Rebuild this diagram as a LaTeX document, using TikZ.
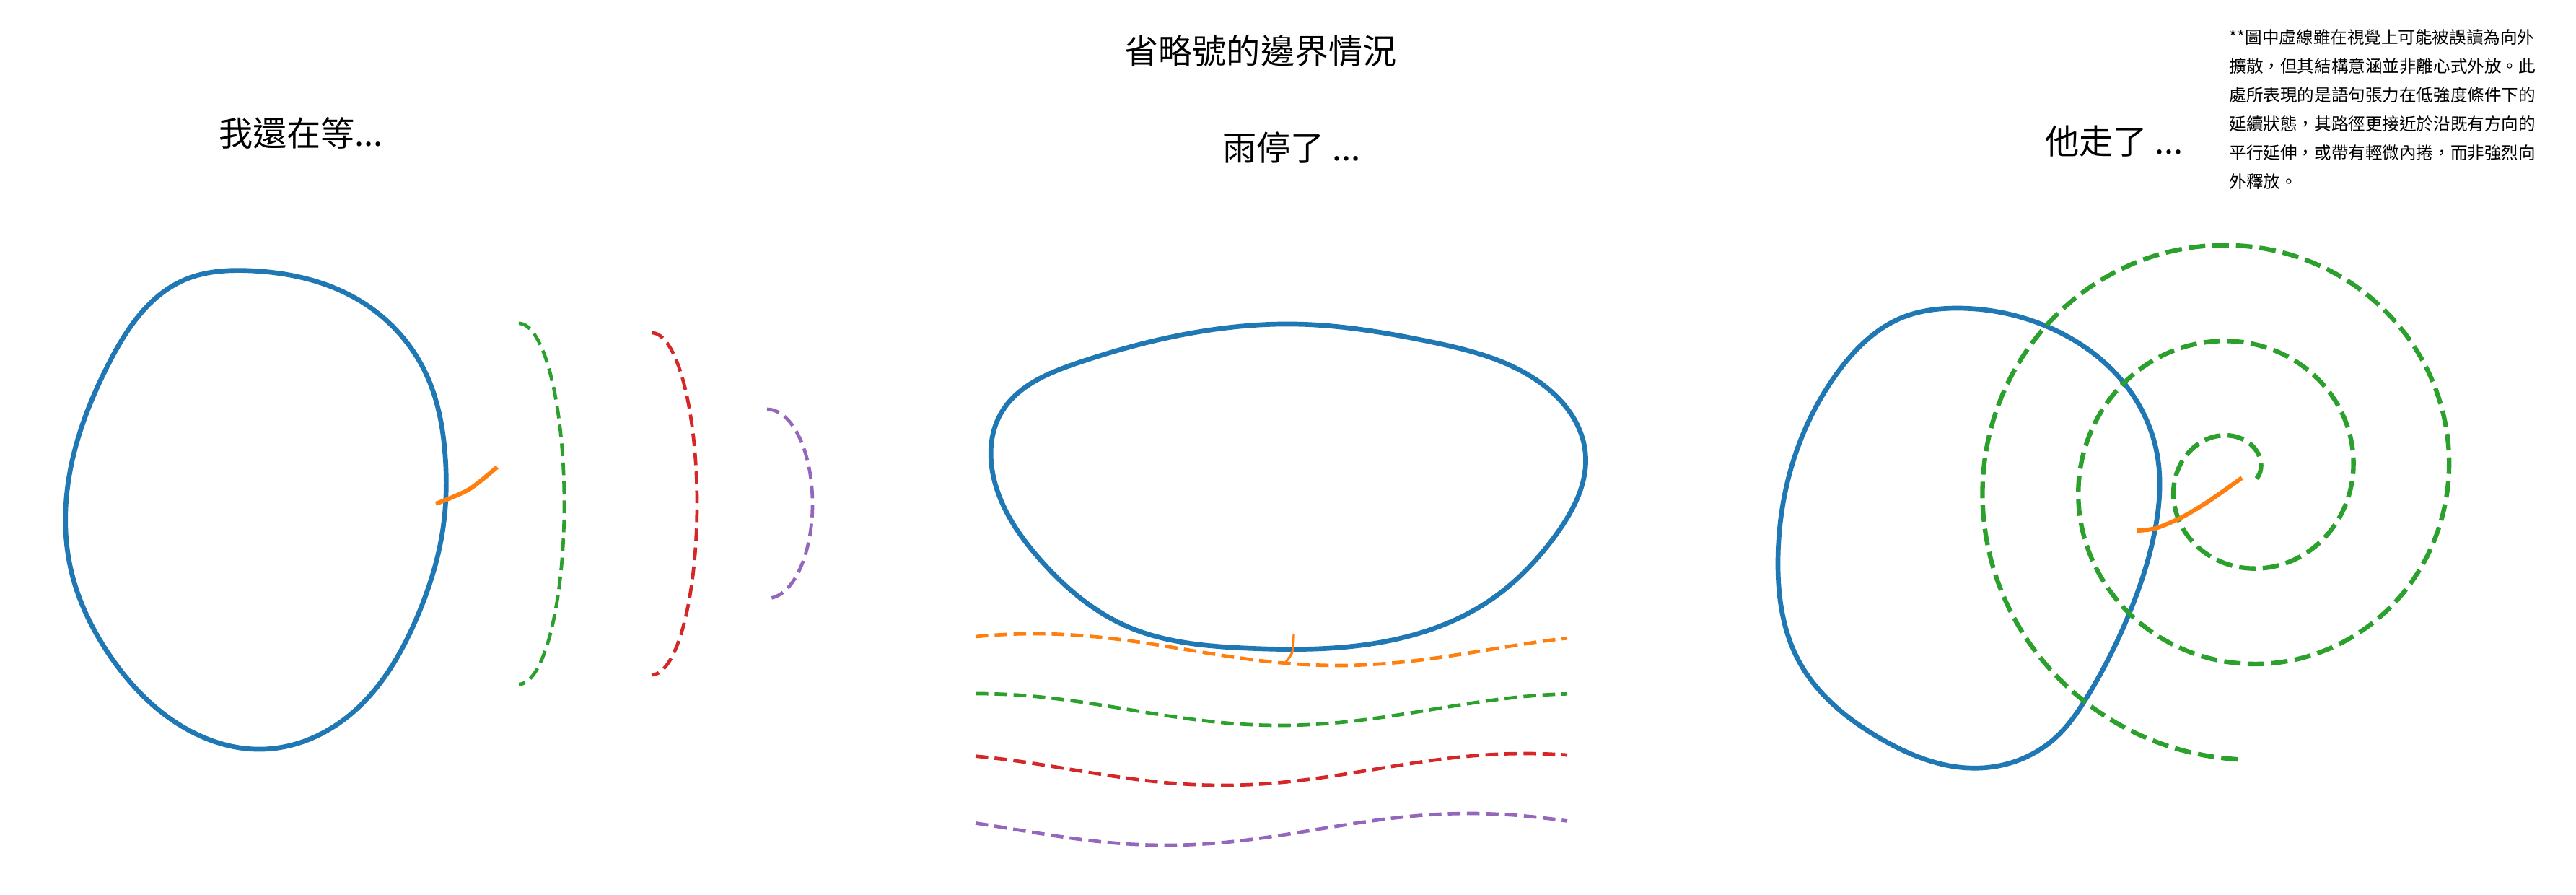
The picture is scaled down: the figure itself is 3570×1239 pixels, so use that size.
\documentclass[tikz,border=0pt]{standalone}
\usepackage{fontspec}
\usetikzlibrary{hobby}
\newfontfamily\cjkfont{Noto Sans CJK TC}
\definecolor{tabblue}{HTML}{1F77B4}
\definecolor{taborange}{HTML}{FF7F0E}
\definecolor{tabgreen}{HTML}{2CA02C}
\definecolor{tabred}{HTML}{D62728}
\definecolor{tabpurple}{HTML}{9467BD}
\begin{document}
\begin{tikzpicture}[line cap=butt,line join=round, x=0.01cm,y=-0.01cm,
	blueloop/.style={tabblue, line width=1.9pt},
	dashtrail/.style={line width=1.34pt, dash pattern=on 5pt off 2.5pt},
	spiraltrail/.style={tabgreen, line width=1.8pt, dash pattern=on 6.5pt off 2.8pt},
	orangelink/.style={taborange, line width=1.7pt},
	bigtext/.style={font=\cjkfont\fontsize{13.4}{16}\selectfont, inner sep=0pt}]
	\useasboundingbox (0,0) rectangle (3570,1239);
	\node[bigtext] (title) at (1747,71) {省略號的邊界情況};
	\node[bigtext] (waitlabel) at (417,184) {我還在等...};
	\node[bigtext] (rainlabel) at (1790,204) {雨停了 ...};
	\node[bigtext] (gonelabel) at (2930,196) {他走了 ...};
	\node[font=\cjkfont\fontsize{6.7}{11.4}\selectfont, align=left, anchor=north west, inner sep=0pt] (note) at (3089,40)
		{**圖中虛線雖在視覺上可能被誤讀為向外\\擴散，但其結構意涵並非離心式外放。此\\處所表現的是語句張力在低強度條件下的\\延續狀態，其路徑更接近於沿既有方向的\\平行延伸，或帶有輕微內捲，而非強烈向\\外釋放。};
	% left
	\draw[blueloop] plot[closed hobby] coordinates {(347,375) (501,418) (589,515) (617,632) (613,738) (578,855) (483,992) (364,1038) (255,1008) (150,905) (98,788) (98,648) (150,505) (255,388)};
	\draw[orangelink] plot[smooth] coordinates {(604,698) (650,678) (689,647)};
	\foreach \cx/\ry/\col in {719/250/tabgreen, 903/237/tabred, 1063/131/tabpurple}
	\draw[dashtrail, \col, samples=80, domain=-90:90] plot ({\cx+63*cos(\x)}, {698+\ry*sin(\x)});
	% middle
	\draw[blueloop] plot[closed hobby] coordinates {(1793,449) (1980,473) (2130,527) (2197,627) (2157,740) (2063,833) (1913,890) (1727,898) (1560,867) (1443,777) (1380,673) (1387,573) (1493,503) (1693,455)};
	\foreach \c/\xl/\col in {900/1854/taborange, 983/1774/tabgreen, 1066/1694/tabred, 1149/1616/tabpurple}
	\draw[dashtrail, \col, samples=100, domain=1352:2172] plot (\x, {\c+22*cos(0.428571*(\x-\xl))});
	\draw[taborange, line width=0.95pt] plot[smooth] coordinates {(1793,878) (1791,903) (1782,917)};
	% right
	\draw[blueloop] plot[closed hobby] coordinates {(2711,427) (2843,455) (2943,530) (2989,627) (2986,737) (2950,852) (2889,971) (2854,1017) (2746,1064) (2604,1022) (2493,916) (2464,776) (2489,627) (2546,517) (2636,440)};
	\draw[spiraltrail, samples=400, domain=0:990] plot ({3104+(23+21.2*rad(\x))*cos(\x)}, {663-(23+21.2*rad(\x))*sin(\x)});
	\draw[orangelink] plot[smooth] coordinates {(2962,735) (2987,732) (3023,717) (3060,695) (3107,662)};
\end{tikzpicture}
\end{document}
